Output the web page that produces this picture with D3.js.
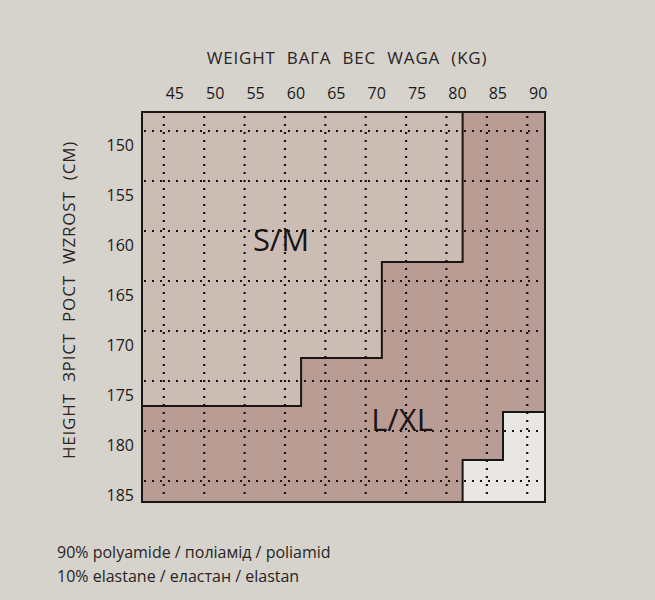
<!DOCTYPE html>
<html><head><meta charset="utf-8">
<script src="https://cdn.jsdelivr.net/npm/d3@7"></script>
<style>body{margin:0;background:#d5d3cc;font-family:"Open Sans",sans-serif;}</style>
</head><body><div id="chart"></div>
<script>
const weights = [45, 50, 55, 60, 65, 70, 75, 80, 85, 90];
const heights = [150, 155, 160, 165, 170, 175, 180, 185];
// grid lines sit slightly above the height labels
const heightLines = [148.3, 153.3, 158.3, 163.3, 168.3, 173.3, 178.3, 183.3];
// S/M region: [weight limit, height from, height to]
const smSteps = [[82, 146.4, 161.4], [72, 161.4, 171], [62, 171, 175.8]];
// uncovered (white) region steps
const whiteSteps = [[87, 176.4, 181.2], [82, 181.2, 185.4]];
const material = ["90% polyamide / поліамід / poliamid", "10% elastane / еластан / elastan"];

const width = 655, height = 600;
const svg = d3.select('#chart').append('svg').attr('width', width).attr('height', height);

const x = d3.scaleLinear().domain([42.3, 92.2]).range([142, 545]);
const y = d3.scaleLinear().domain([146.4, 185.4]).range([112, 502]);

// L/XL background fill
svg.append('rect').attr('x', x(42.3)).attr('y', y(146.4))
    .attr('width', x(92.2) - x(42.3)).attr('height', y(185.4) - y(146.4))
    .attr('fill', '#b99c94');

const stepPath = (steps, side) => {
    const edge = side === 'left' ? 42.3 : 92.2;
    const p = d3.path();
    p.moveTo(x(edge), y(steps[0][1]));
    steps.forEach(s => { p.lineTo(x(s[0]), y(s[1])); p.lineTo(x(s[0]), y(s[2])); });
    p.lineTo(x(edge), y(steps[steps.length - 1][2]));
    p.closePath();
    return p.toString();
};

svg.append('path').attr('d', stepPath(smSteps, 'left'))
    .attr('fill', '#cbbcb4').attr('stroke', '#1a1414').attr('stroke-width', 2);
svg.append('path').attr('d', stepPath(whiteSteps, 'right'))
    .attr('fill', '#e9e7e3').attr('stroke', '#1a1414').attr('stroke-width', 2);

// dotted grid
svg.append('g').selectAll('line').data(weights).join('line')
    .attr('x1', d => x(d)).attr('x2', d => x(d))
    .attr('y1', y(146.4) + 4).attr('y2', y(185.4) - 2)
    .attr('stroke', '#1a1414').attr('stroke-width', 2.2).attr('stroke-dasharray', '2,6');
svg.append('g').selectAll('line').data(heightLines).join('line')
    .attr('x1', x(42.3) + 2).attr('x2', x(92.2) - 2)
    .attr('y1', d => y(d)).attr('y2', d => y(d))
    .attr('stroke', '#1a1414').attr('stroke-width', 2.2).attr('stroke-dasharray', '2,6');

// frame
svg.append('rect').attr('x', x(42.3)).attr('y', y(146.4))
    .attr('width', x(92.2) - x(42.3)).attr('height', y(185.4) - y(146.4))
    .attr('fill', 'none').attr('stroke', '#1a1414').attr('stroke-width', 2);

// axes labels
svg.append('g').selectAll('text').data(weights).join('text')
    .attr('x', d => x(d) + 11).attr('y', 99).attr('text-anchor', 'middle')
    .attr('font-size', 16).attr('fill', '#1e1a1a').text(d => d);
svg.append('g').selectAll('text').data(heights).join('text')
    .attr('x', 134).attr('y', d => y(d) - 1).attr('text-anchor', 'end')
    .attr('dominant-baseline', 'middle')
    .attr('font-size', 16).attr('fill', '#1e1a1a').text(d => d);

svg.append('text').attr('x', 347).attr('y', 64).attr('text-anchor', 'middle')
    .attr('font-size', 17).attr('letter-spacing', 0.8).attr('fill', '#2a2424')
    .attr('word-spacing', 6).text('WEIGHT  ВАГА  ВЕС  WAGA  (KG)');
svg.append('text').attr('transform', 'translate(75,300) rotate(-90)').attr('text-anchor', 'middle')
    .attr('font-size', 17).attr('letter-spacing', 0.8).attr('fill', '#2a2424')
    .attr('word-spacing', 6).text('HEIGHT  ЗРІСТ  РОСТ  WZROST  (CM)');

svg.append('text').attr('x', 281).attr('y', 251).attr('text-anchor', 'middle')
    .attr('font-size', 31).attr('fill', '#1a1414').text('S/M');
svg.append('text').attr('x', 402).attr('y', 431).attr('text-anchor', 'middle')
    .attr('font-size', 31).attr('fill', '#1a1414').text('L/XL');

svg.append('g').selectAll('text').data(material).join('text')
    .attr('x', 57).attr('y', (d, i) => 558 + i * 24)
    .attr('font-size', 16).attr('fill', '#2a2424').text(d => d);
</script></body></html>
